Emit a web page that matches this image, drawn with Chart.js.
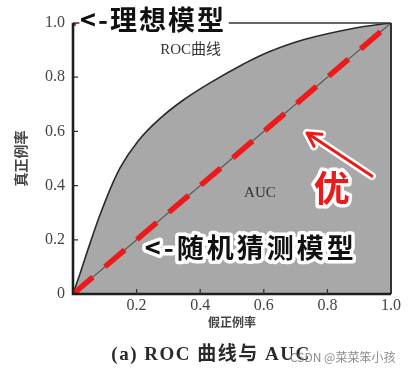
<!DOCTYPE html>
<html>
<head>
<meta charset="utf-8">
<script src="https://cdn.jsdelivr.net/npm/chart.js@4.4.0/dist/chart.umd.min.js"></script>
<style>
html, body { margin: 0; padding: 0; background: #fff; }
#wrap { width: 408px; height: 375px; }
</style>
</head>
<body>
<div id="wrap"><canvas id="rocChart" width="408" height="375"></canvas></div>
<script>
// ROC curve (false positive rate, true positive rate)
const rocX = [0, 0.022, 0.053, 0.094, 0.148, 0.205, 0.274, 0.346, 0.431, 0.535, 0.619, 0.73, 0.88, 1.0];
const rocY = [0, 0.075, 0.185, 0.32, 0.465, 0.565, 0.648, 0.715, 0.779, 0.848, 0.895, 0.94, 0.98, 1.0];
// random guess model
const randX = [0, 1];
const randY = [0, 1];
// ideal model
const idealX = [0];
const idealY = [1];
const tickValues = [0, 0.2, 0.4, 0.6, 0.8, 1.0];
const xTitle = '假正例率';
const yTitle = '真正例率';
const caption = '(a) ROC 曲线与 AUC';
const watermark = 'CSDN @菜菜笨小孩';

const RED = '#ec1a1a';
const CJK = '"Noto Sans CJK SC"';
const SERIF = '"Liberation Serif", "DejaVu Serif", serif';

function pts(xs, ys) {
    return xs.map((x, i) => ({ x: x, y: ys[i] }));
}

function outlinedText(ctx, text, x, y, fill, stroke, lw) {
    ctx.lineJoin = 'round';
    ctx.strokeStyle = stroke;
    ctx.lineWidth = lw;
    ctx.strokeText(text, x, y);
    ctx.fillStyle = fill;
    ctx.fillText(text, x, y);
}

const decorations = {
    id: 'decorations',
    afterDatasetsDraw(chart) {
        const ctx = chart.ctx;
        const xs = chart.scales.x;
        const ys = chart.scales.y;
        const { left, right, top, bottom } = chart.chartArea;
        const px = v => xs.getPixelForValue(v);
        const py = v => ys.getPixelForValue(v);

        ctx.save();
        // frame
        ctx.strokeStyle = '#333';
        ctx.lineWidth = 1.3;
        ctx.beginPath();
        ctx.moveTo(left, top); ctx.lineTo(right, top);
        ctx.stroke();
        ctx.lineWidth = 2;
        ctx.beginPath();
        ctx.moveTo(right, top); ctx.lineTo(right, bottom);
        ctx.stroke();
        ctx.strokeStyle = '#1e1e1e';
        ctx.lineWidth = 2.6;
        ctx.beginPath();
        ctx.moveTo(left, top); ctx.lineTo(left, bottom); ctx.lineTo(right, bottom);
        ctx.stroke();

        // inward ticks
        ctx.lineWidth = 1.3;
        ctx.strokeStyle = '#333';
        tickValues.slice(1, -1).forEach(v => {
            ctx.beginPath();
            ctx.moveTo(left, py(v)); ctx.lineTo(left + 5, py(v));
            ctx.moveTo(px(v), bottom); ctx.lineTo(px(v), bottom - 5);
            ctx.stroke();
        });

        // ideal model label, white box hides the top frame
        ctx.fillStyle = '#fff';
        ctx.fillRect(px(0.02), py(1.055), px(0.49) - px(0.02), py(0.955) - py(1.055));
        ctx.font = 'bold 27px ' + CJK;
        ctx.letterSpacing = '2px';
        ctx.textBaseline = 'middle';
        ctx.textAlign = 'left';
        ctx.fillStyle = '#111';
        ctx.fillText('<-理想模型', px(0.022), py(1.011));

        // plain labels
        ctx.letterSpacing = '0px';
        ctx.font = '15px ' + SERIF + ', ' + CJK;
        ctx.fillStyle = '#333';
        ctx.fillText('ROC曲线', px(0.274), py(0.90));
        ctx.fillText('AUC', px(0.538), py(0.373));

        // random guess label
        ctx.font = 'bold 27px ' + CJK;
        ctx.letterSpacing = '3px';
        outlinedText(ctx, '<-随机猜测模型', px(0.226), py(0.170), '#111', '#fff', 7);

        // red arrow
        const tx = px(0.94), ty = py(0.435), hx = px(0.736), hy = py(0.594);
        const ang = Math.atan2(hy - ty, hx - tx);
        const wing = 15;
        const arrow = () => {
            ctx.beginPath();
            ctx.moveTo(tx, ty); ctx.lineTo(hx, hy);
            ctx.moveTo(hx - wing * Math.cos(ang - 0.5), hy - wing * Math.sin(ang - 0.5));
            ctx.lineTo(hx, hy);
            ctx.lineTo(hx - wing * Math.cos(ang + 0.5), hy - wing * Math.sin(ang + 0.5));
            ctx.stroke();
        };
        ctx.lineCap = 'round';
        ctx.lineJoin = 'round';
        ctx.strokeStyle = '#fff';
        ctx.lineWidth = 8;
        arrow();
        ctx.strokeStyle = RED;
        ctx.lineWidth = 3;
        arrow();

        ctx.font = 'bold 36px ' + CJK;
        ctx.letterSpacing = '0px';
        ctx.textAlign = 'center';
        outlinedText(ctx, '优', px(0.814), py(0.391), RED, '#fff', 7);

        // caption and watermark
        ctx.font = 'bold 19px ' + SERIF + ', ' + CJK;
        ctx.letterSpacing = '1.5px';
        ctx.fillStyle = '#2a2a2a';
        ctx.fillText(caption, 211, 355);
        ctx.font = '12px ' + CJK;
        ctx.letterSpacing = '0px';
        ctx.textAlign = 'left';
        ctx.fillStyle = 'rgba(120,120,120,0.85)';
        ctx.fillText(watermark, 290, 357);
        ctx.restore();
    }
};

const ctx = document.getElementById('rocChart');
new Chart(ctx, {
    type: 'line',
    data: {
        datasets: [
            {
                label: 'ideal',
                data: pts(idealX, idealY),
                showLine: false,
                pointStyle: 'rect',
                pointRadius: 3.5,
                pointBackgroundColor: RED,
                pointBorderColor: RED,
                order: 1
            },
            {
                label: 'random dashed',
                data: pts(randX, randY),
                borderColor: RED,
                borderWidth: 5.5,
                borderDash: [26, 16],
                pointRadius: 0,
                fill: false,
                order: 2
            },
            {
                label: 'random',
                data: pts(randX, randY),
                borderColor: '#555',
                borderWidth: 1.2,
                pointRadius: 0,
                fill: false,
                order: 3
            },
            {
                label: 'ROC',
                data: pts(rocX, rocY),
                borderColor: '#2a2a2a',
                borderWidth: 1.6,
                backgroundColor: '#a8a8a8',
                fill: 'origin',
                pointRadius: 0,
                tension: 0.4,
                order: 4
            }
        ]
    },
    options: {
        responsive: false,
        animation: false,
        devicePixelRatio: 1,
        layout: { padding: { top: 23, right: 17, bottom: 35, left: 0 } },
        plugins: {
            legend: { display: false },
            tooltip: { enabled: false }
        },
        scales: {
            x: {
                type: 'linear',
                min: 0,
                max: 1,
                grid: { display: false, drawTicks: false },
                border: { display: false },
                ticks: {
                    stepSize: 0.2,
                    padding: 2,
                    maxRotation: 0,
                    color: '#444',
                    font: { family: SERIF, size: 16 },
                    callback: v => v === 0 ? '' : v.toFixed(1)
                },
                title: {
                    display: true,
                    text: xTitle,
                    color: '#444',
                    font: { family: CJK, size: 12, weight: 'bold' },
                    padding: { top: 0, bottom: 10 }
                },
                afterFit: s => { s.height = 46; }
            },
            y: {
                type: 'linear',
                min: 0,
                max: 1,
                grid: { display: false, drawTicks: false },
                border: { display: false },
                ticks: {
                    stepSize: 0.2,
                    padding: 8,
                    color: '#444',
                    font: { family: SERIF, size: 16 },
                    callback: v => v === 0 ? '0' : v.toFixed(1)
                },
                title: {
                    display: true,
                    text: yTitle,
                    color: '#444',
                    font: { family: CJK, size: 14, weight: 'bold' },
                    padding: { top: 12, bottom: 0 }
                },
                afterFit: s => { s.width = 73; }
            }
        }
    },
    plugins: [decorations]
});
</script>
</body>
</html>
